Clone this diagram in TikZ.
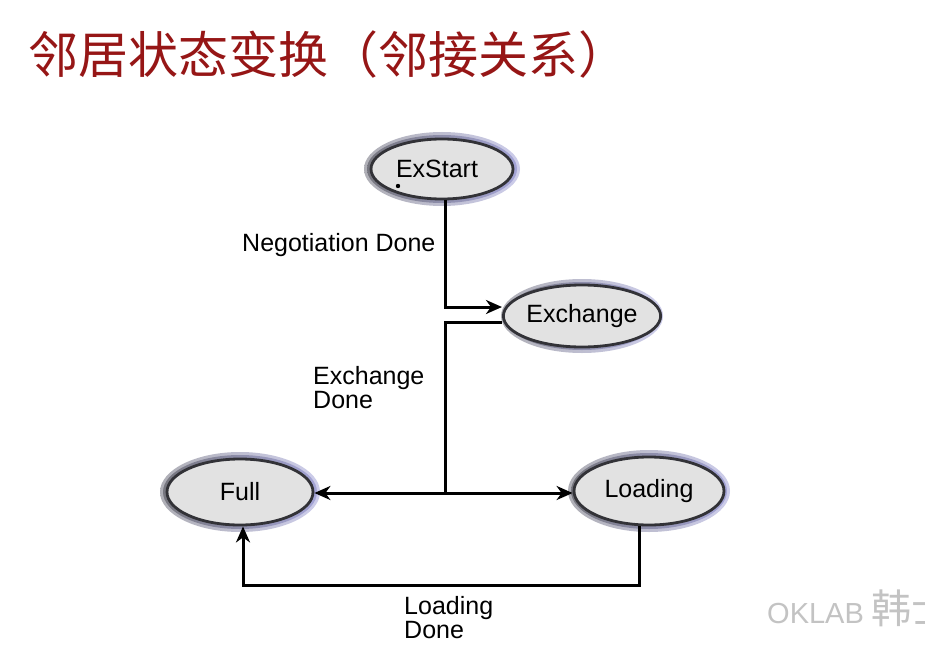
\documentclass[tikz,border=0pt]{standalone}
\usepackage{fontspec}
\setmainfont{Liberation Sans}
\newfontfamily\cjk{Noto Sans CJK SC}
\usetikzlibrary{shapes.geometric,arrows.meta}
\definecolor{titlered}{RGB}{150,22,22}
\definecolor{statefill}{RGB}{226,226,226}
\definecolor{stateline}{RGB}{50,50,55}
\definecolor{haloA}{RGB}{118,118,126}
\definecolor{haloB}{RGB}{165,165,215}
\definecolor{haloC}{RGB}{175,175,182}
\definecolor{haloD}{RGB}{205,205,235}
\definecolor{wmgray}{RGB}{195,195,195}
\tikzset{
  statenode/.style={ellipse, draw=stateline, line width=2.8pt, fill=statefill,
    inner sep=0pt, font=\fontsize{25}{24}\selectfont},
  haloouter/.style={left color=haloC, right color=haloD},
  haloinner/.style={left color=haloA, right color=haloB},
  conn/.style={line width=3pt, black},
  arr/.style={conn, -{Stealth[length=16pt,width=14pt,inset=5pt]}},
  lbl/.style={inner sep=0pt, font=\fontsize{25}{24}\selectfont, align=left},
}
\begin{document}
\begin{tikzpicture}[x=1pt,y=-1pt]
\clip (0,0) rectangle (925,647);
\fill[white] (0,0) rectangle (925,647);

% title
\node[anchor=west, inner sep=0pt, text=titlered, font=\cjk\fontsize{50}{50}\selectfont] (title) at (28,55) {邻居状态变换（邻接关系）};

% halos
\shade[haloouter] (442,169) ellipse [x radius=78, y radius=37];
\shade[haloinner] (442,169) ellipse [x radius=75, y radius=34];
\shade[haloouter] (582,316) ellipse [x radius=81, y radius=37];
\shade[haloinner] (582,316) ellipse [x radius=78, y radius=34];
\shade[haloouter] (240,492) ellipse [x radius=80, y radius=40];
\shade[haloinner] (240,492) ellipse [x radius=77, y radius=37];
\shade[haloouter] (649,491) ellipse [x radius=81, y radius=41];
\shade[haloinner] (649,491) ellipse [x radius=78, y radius=38];

% states
\node[statenode, minimum width=142pt, minimum height=60pt] (exstart) at (442,169) {ExStart\hspace*{10pt}};
\node[statenode, minimum width=150pt, minimum height=62pt] (exchange) at (582,316) {Exchange};
\node[statenode, minimum width=146pt, minimum height=66pt] (full) at (240,492) {Full};
\node[statenode, minimum width=150pt, minimum height=68pt] (loading) at (649,491) {\raisebox{-2pt}{Loading}};

% small dot inside ExStart
\fill[black] (398,186) circle [radius=2.2pt];

% junction coordinates
\coordinate (j1) at (445,307);
\coordinate (j2) at (445,322);
\coordinate (j3) at (445,493);
\coordinate (j4) at (639,585);
\coordinate (j5) at (243,585);

% connectors
\draw[arr] (exstart.south -| j1) -- (j1) -- (exchange.west |- j1);
\draw[conn] (exchange.west |- j2) -- (j2) -- (j3);
\draw[arr] (j3) -- (full.east |- j3);
\draw[arr] (j3) -- (loading.west |- j3);
\draw[arr] (loading.south -| j4) -- (j4) -- (j5) -- (full.south -| j5);

% labels
\node[lbl, anchor=base west] (negdone) at (242,251) {Negotiation Done};
\node[lbl, anchor=north west] (exdone) at (313,366) {Exchange\\Done};
\node[lbl, anchor=north west] (lddone) at (404,596) {Loading\\Done};

% watermark
\node[anchor=base west, inner sep=0pt, text=wmgray, font=\fontsize{29}{29}\selectfont] (wm) at (767,623) {OKLAB\hspace{8pt}{\cjk\fontsize{40}{40}\selectfont 韩士}};
\end{tikzpicture}
\end{document}
